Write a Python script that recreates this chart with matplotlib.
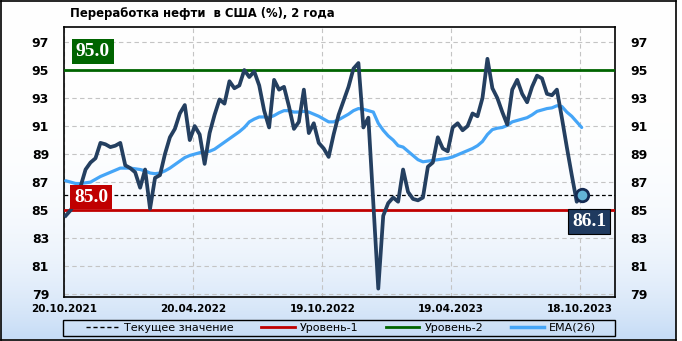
import numpy as np
import pandas as pd
import matplotlib
matplotlib.use('Agg')
import matplotlib.pyplot as plt
from matplotlib.lines import Line2D
from matplotlib.patches import Rectangle

# weekly refinery utilisation, %
dates = pd.date_range('2021-10-22', periods=105, freq='7D')
refining = [
    84.6, 85.0, 85.6, 86.7, 87.9, 88.4, 88.7, 89.8, 89.7, 89.5,
    89.6, 89.8, 88.2, 88.0, 87.7, 86.6, 87.9, 85.1, 87.3, 87.5,
    89.0, 90.2, 90.8, 91.9, 92.5, 90.0, 91.0, 90.4, 88.3, 90.5,
    91.8, 92.9, 92.6, 94.2, 93.7, 93.9, 95.0, 94.5, 94.9, 93.9,
    92.1, 90.9, 94.3, 93.6, 93.8, 92.4, 90.8, 91.3, 93.6, 90.5,
    91.2, 89.8, 89.4, 88.8, 90.4, 91.8, 92.8, 93.8, 95.1, 95.5,
    90.9, 91.6, 85.5, 79.4, 84.6, 85.5, 85.9, 85.6, 87.9, 86.3,
    85.8, 85.7, 85.9, 88.1, 88.4, 90.2, 89.4, 89.2, 90.9, 91.2,
    90.7, 91.0, 91.9, 91.7, 93.0, 95.8, 93.7, 93.0, 92.0, 91.1,
    93.6, 94.3, 93.3, 92.7, 93.8, 94.6, 94.4, 93.3, 93.2, 93.6,
    91.6, 89.5, 87.5, 85.6, 86.1,
]
ema26 = [
    87.1, 87.0, 86.9, 86.9, 86.95, 87.0, 87.2, 87.4, 87.55, 87.7,
    87.85, 88.0, 88.0, 88.0, 87.95, 87.9, 87.8, 87.65, 87.6, 87.65,
    87.8, 88.0, 88.25, 88.5, 88.75, 88.9, 89.0, 89.1, 89.15, 89.2,
    89.35, 89.6, 89.85, 90.1, 90.35, 90.6, 90.9, 91.3, 91.5, 91.65,
    91.65, 91.6, 91.75, 91.95, 92.1, 92.1, 92.0, 92.0, 92.05, 92.0,
    91.85, 91.7, 91.5, 91.3, 91.3, 91.45, 91.65, 91.85, 92.1, 92.25,
    92.2, 92.1, 92.0, 91.2, 90.7, 90.3, 90.0, 89.6, 89.5, 89.2,
    88.9, 88.6, 88.45, 88.5, 88.55, 88.6, 88.65, 88.7, 88.8, 88.95,
    89.1, 89.25, 89.4, 89.6, 89.9, 90.4, 90.75, 90.85, 90.9, 91.05,
    91.3, 91.4, 91.5, 91.6, 91.8, 92.05, 92.15, 92.25, 92.3, 92.45,
    92.4, 92.0, 91.7, 91.3, 90.9,
]
current = 86.1
level1 = 85.0
level2 = 95.0
tick_dates = ['2021-10-20', '2022-04-20', '2022-10-19', '2023-04-19', '2023-10-18']
tick_labels = ['20.10.2021', '20.04.2022', '19.10.2022', '19.04.2023', '18.10.2023']
y_ticks = list(range(79, 98, 2))

W, H = 682, 341
fig = plt.figure(figsize=(W / 100, H / 100), dpi=100)

# background with gradient and black frame
bg = fig.add_axes([0.5 / W, 1.5 / H, 675 / W, 339 / H], zorder=-10)
t = np.linspace(0, 1, 256) ** 4
white = np.array([1.0, 1.0, 1.0])
blue = np.array([0xc6, 0xdc, 0xf6]) / 255
grad = white[None, :] * (1 - t[:, None]) + blue[None, :] * t[:, None]
bg.imshow(grad[:, None, :], aspect='auto', extent=[0, 1, 0, 1])
bg.set_xticks([])
bg.set_yticks([])
for s in bg.spines.values():
    s.set_linewidth(1.2)
    s.set_color('black')

ax = fig.add_axes([64.3 / W, 1 - 297 / H, (615 - 64.3) / W, (297 - 27.3) / H])
ax.set_facecolor('none')

navy = '#243f60'
ax.axhline(level2, color='#006400', lw=2, zorder=3)
ax.axhline(level1, color='#c00000', lw=2, zorder=3)
ax.axhline(current, color='black', lw=0.9, ls=(0, (3, 2)), zorder=3)
ax.plot(dates, ema26, color='#45a5f7', lw=2.3, zorder=4, solid_capstyle='round')
ax.plot(dates, refining, color=navy, lw=2.7, zorder=5, solid_joinstyle='round')
ax.plot(dates[-1:], refining[-1:], 'o', ms=9, mfc='#62b3d6', mec='#142a52', mew=2, zorder=6)

ax.set_ylim(78.8, 98.05)
ax.set_xlim(pd.Timestamp('2021-10-20'), pd.Timestamp('2023-12-06'))
ax.set_yticks(y_ticks)
ax.set_xticks(pd.to_datetime(tick_dates))
ax.set_xticklabels(tick_labels)
ax.grid(True, color='#c4c4c4', lw=0.8, ls=(0, (4, 3)), zorder=1)
ax.tick_params(axis='y', length=0, pad=11, labelsize=9, labelright=True)
ax.tick_params(axis='x', length=0, pad=5, labelsize=7.5)
for lab in ax.get_xticklabels() + ax.yaxis.get_ticklabels(which='both'):
    lab.set_fontweight('bold')
for s in ax.spines.values():
    s.set_linewidth(1.2)
    s.set_color('black')

# value boxes
box_font = dict(family='Liberation Serif', weight='bold', size=14, color='white')
tr = ax.get_yaxis_transform()
ax.text(0.052, 96.32, '95.0', transform=tr, ha='center', va='center', zorder=7,
        bbox=dict(boxstyle='square,pad=0.2', fc='#006400', ec='none'), **box_font)
ax.text(0.049, 85.93, '85.0', transform=tr, ha='center', va='center', zorder=7,
        bbox=dict(boxstyle='square,pad=0.2', fc='#c00000', ec='none'), **box_font)
ax.text(0.953, 84.21, '86.1', transform=tr, ha='center', va='center', zorder=7,
        bbox=dict(boxstyle='square,pad=0.2', fc='#1f3a5f', ec='black', lw=0.8), **box_font)

fig.text(70 / W, 1 - 14 / H, 'Переработка нефти  в США (%), 2 года',
         ha='left', va='center', fontsize=8.4, fontweight='bold')

# legend: frame across the plot width, entries centred inside
fig.add_artist(Rectangle((63.3 / W, 1 - 335.5 / H), 552 / W, 15.5 / H,
                         transform=fig.transFigure, fill=False, ec='black', lw=1))
handles = [
    Line2D([], [], color='black', lw=1, ls=(0, (3, 2))),
    Line2D([], [], color='#c00000', lw=2),
    Line2D([], [], color='#006400', lw=2),
    Line2D([], [], color='#45a5f7', lw=2.5),
]
labels = ['Текущее значение', 'Уровень-1', 'Уровень-2', 'EMA(26)']
fig.legend(handles, labels, loc='center', ncol=4,
           bbox_to_anchor=(341 / W, 1 - 327.7 / H),
           fontsize=8, handlelength=3, handletextpad=0.45, columnspacing=2.5,
           frameon=False, borderpad=0, borderaxespad=0)

fig.savefig('out.png', dpi=100)
